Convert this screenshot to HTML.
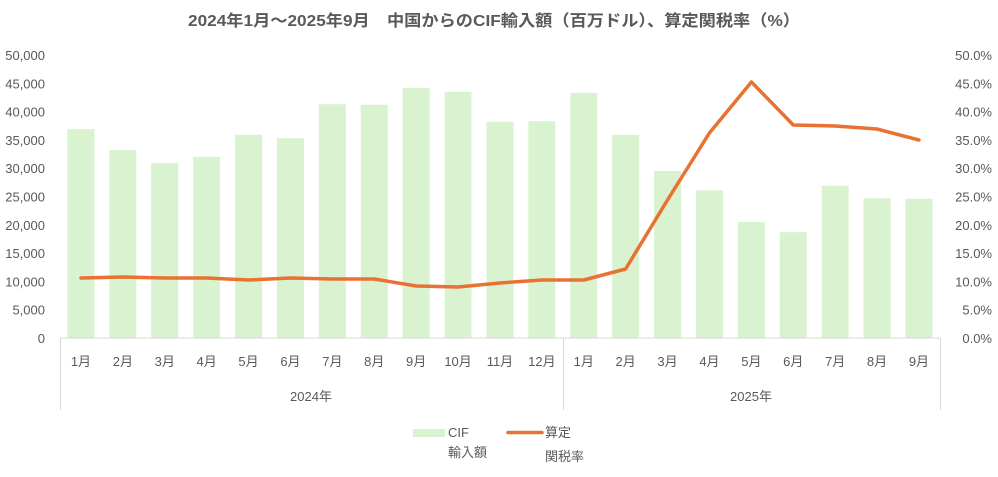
<!DOCTYPE html>
<html><head><meta charset="utf-8"><style>
html,body{margin:0;padding:0;background:#fff;}
svg text{font-family:"Liberation Sans","Noto Sans CJK JP",sans-serif;fill:#595959;}
</style></head><body>
<svg id="c" width="998" height="472" xmlns="http://www.w3.org/2000/svg">
<text x="494" y="26" text-anchor="middle" font-size="16" font-weight="bold" textLength="612" lengthAdjust="spacingAndGlyphs" style="fill:#595959">2024年1月～2025年9月　中国からのCIF輸入額（百万ドル）、算定関税率（%）</text>
</svg>
<script>
(function(){
var s=document.getElementById('c');var NS='http://www.w3.org/2000/svg';
function el(t,a,txt){var e=document.createElementNS(NS,t);for(var k in a)e.setAttribute(k,a[k]);if(txt!==undefined)e.textContent=txt;s.appendChild(e);return e;}
var y0=338,yTop=55,H=y0-yTop,x0=60,step=41.9;
var bars=[36900,33200,30900,32000,35900,35300,41300,41200,44200,43500,38200,38300,43300,35900,29500,26100,20500,18700,26900,24700,24600];
var ly=[278,277,278,278,280,278,279,279,286,287,283,280,280,269,200,133,82,125,126,129,140];
function fmt(n){var t=String(n);return t.length>3?t.slice(0,t.length-3)+','+t.slice(-3):t;}
for(var i=0;i<=10;i++){var y=y0-H*i/10;
el('text',{x:45,y:y+5,'text-anchor':'end','font-size':13},fmt(i*5000));
el('text',{x:992,y:y+5,'text-anchor':'end','font-size':13},(i*5).toFixed(1)+'%');}
bars.forEach(function(v,i){var cx=x0+step*(i+0.5);var h=H*v/50000;
el('rect',{x:cx-13.5,y:y0-h,width:27,height:h,fill:'#d9f2d0'});
var m=i<12?i+1:i-11;el('text',{x:cx,y:366,'text-anchor':'middle','font-size':13},m+'月');});
el('line',{x1:x0,y1:y0,x2:940,y2:y0,stroke:'#d9d9d9','stroke-width':1});
[60,563,940].forEach(function(x){el('line',{x1:x+0.5,y1:y0,x2:x+0.5,y2:410,stroke:'#d9d9d9','stroke-width':1});});
el('text',{x:311,y:401,'text-anchor':'middle','font-size':13},'2024年');
el('text',{x:751,y:401,'text-anchor':'middle','font-size':13},'2025年');
el('polyline',{points:ly.map(function(y,i){return (x0+step*(i+0.5)).toFixed(1)+','+y;}).join(' '),fill:'none',stroke:'#e97132','stroke-width':3.5,'stroke-linejoin':'round','stroke-linecap':'round'});
el('rect',{x:413,y:429,width:32,height:8,fill:'#d9f2d0'});
el('text',{x:448,y:437,'font-size':13},'CIF');
el('text',{x:448,y:457,'font-size':13},'輸入額');
el('line',{x1:508,y1:432.5,x2:542,y2:432.5,stroke:'#e97132','stroke-width':3.5,'stroke-linecap':'round'});
el('text',{x:545,y:437,'font-size':13},'算定');
el('text',{x:545,y:461,'font-size':13},'関税率');
})();
</script>
</body></html>
